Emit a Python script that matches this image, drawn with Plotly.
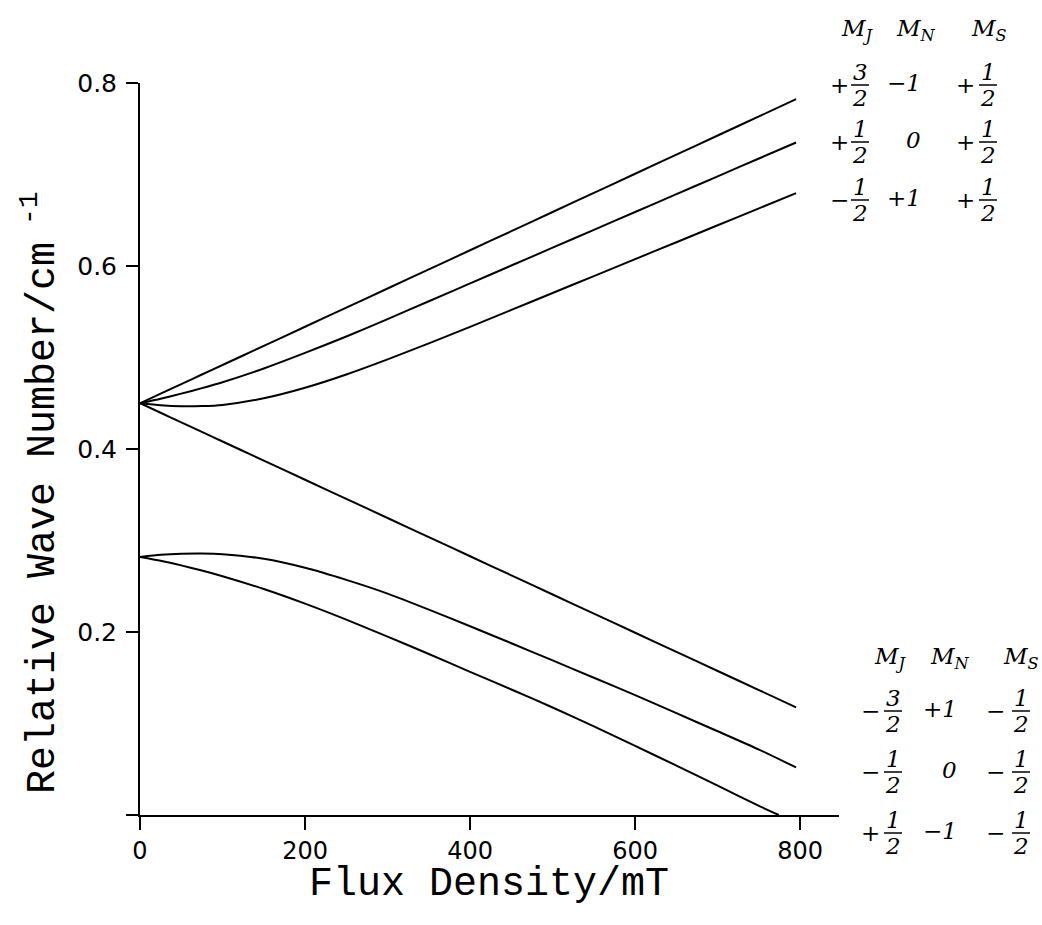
import plotly.graph_objects as go

# Magnetic flux density (mT) at which the term values are tabulated
field = [0, 25, 50, 75, 100, 150, 200, 250, 300, 350, 400, 450, 500, 550, 600, 650, 700, 750, 795]
field_f = [0, 25, 50, 75, 100, 150, 200, 250, 300, 350, 400, 450, 500, 550, 600, 650, 700, 750, 774]

# Upper group of Zeeman components (M_S = +1/2), relative wave number / cm^-1
level_a = [0.4500, 0.4605, 0.4709, 0.4814, 0.4918, 0.5127, 0.5336, 0.5545, 0.5754, 0.5963,
           0.6172, 0.6381, 0.6590, 0.6799, 0.7008, 0.7217, 0.7426, 0.7635, 0.7823]
level_b = [0.4500, 0.4550, 0.4605, 0.4665, 0.4730, 0.4880, 0.5050, 0.5230, 0.5420, 0.5615,
           0.5810, 0.6005, 0.6200, 0.6395, 0.6590, 0.6785, 0.6980, 0.7175, 0.7350]
level_c = [0.4500, 0.4478, 0.4467, 0.4469, 0.4482, 0.4555, 0.4670, 0.4815, 0.4980, 0.5155,
           0.5335, 0.5520, 0.5705, 0.5890, 0.6075, 0.6260, 0.6445, 0.6630, 0.6797]

# Lower group (M_S = -1/2)
level_d = [0.4500, 0.4396, 0.4291, 0.4187, 0.4082, 0.3873, 0.3664, 0.3455, 0.3246, 0.3037,
           0.2828, 0.2619, 0.2410, 0.2201, 0.1992, 0.1783, 0.1574, 0.1365, 0.1177]
level_e = [0.2820, 0.2843, 0.2855, 0.2858, 0.2850, 0.2800, 0.2702, 0.2570, 0.2420, 0.2245,
           0.2063, 0.1877, 0.1690, 0.1500, 0.1310, 0.1113, 0.0915, 0.0715, 0.0520]
level_f = [0.2820, 0.2778, 0.2728, 0.2672, 0.2610, 0.2470, 0.2310, 0.2135, 0.1950, 0.1760,
           0.1565, 0.1372, 0.1175, 0.0968, 0.0755, 0.0540, 0.0320, 0.0100, 0.0000]

# Axis ticks
x_ticks = [0, 200, 400, 600, 800]
y_ticks = [0, 0.2, 0.4, 0.6, 0.8]
y_tick_text = ["", "0.2", "0.4", "0.6", "0.8"]

# Quantum-number labels: (sign, numerator, denominator) for the half-integer columns
upper_mj = [("+", "3", "2"), ("+", "1", "2"), ("\u2212", "1", "2")]
upper_mn = ["\u22121", "0", "+1"]
upper_ms = [("+", "1", "2"), ("+", "1", "2"), ("+", "1", "2")]
lower_mj = [("\u2212", "3", "2"), ("\u2212", "1", "2"), ("+", "1", "2")]
lower_mn = ["+1", "0", "\u22121"]
lower_ms = [("\u2212", "1", "2"), ("\u2212", "1", "2"), ("\u2212", "1", "2")]

W, H = 1042, 925
ML, MR, MT, MB = 140, 203, 83, 110
PW, PH = W - ML - MR, H - MT - MB


def px(x):
    return (x - ML) / PW


def py(y):
    return (H - MB - y) / PH


fig = go.Figure()
for xs, ys in [(field, level_a), (field, level_b), (field, level_c),
               (field, level_d), (field, level_e), (field_f, level_f)]:
    fig.add_trace(go.Scatter(x=xs, y=ys, mode="lines",
                             line=dict(color="black", width=2, shape="spline", smoothing=0.6),
                             hoverinfo="skip", showlegend=False))

annotations = []
shapes = []
serif = dict(family="DejaVu Serif", color="black", style="italic")


def text(x, y, t, size, xanchor="center"):
    f = dict(serif)
    f["size"] = size
    annotations.append(dict(x=px(x), y=py(y), xref="paper", yref="paper", text=t,
                            showarrow=False, xanchor=xanchor, yanchor="middle",
                            font=f, borderpad=0))


def fraction(x, y, num, den, size=23):
    text(x, y - 12, num, size)
    text(x, y + 14, den, size)
    shapes.append(dict(type="line", xref="paper", yref="paper",
                       x0=px(x - 9), x1=px(x + 9), y0=py(y + 1), y1=py(y + 1),
                       line=dict(color="black", width=1.5)))


def half(x_sign, x_frac, y, item):
    sign, num, den = item
    text(x_sign, y + 1, sign, 23)
    fraction(x_frac, y, num, den)


def table(header_y, header_x, rows_y, cols, mj, mn, ms):
    for hx, sub in zip(header_x, ["J", "N", "S"]):
        text(hx, header_y, "M<sub>%s</sub>" % sub, 23)
    for i, ry in enumerate(rows_y):
        half(cols[0], cols[1], ry, mj[i])
        text(cols[2], ry - 1, mn[i], 23, xanchor="right")
        half(cols[3], cols[4], ry, ms[i])


table(30, [857, 916, 989], [84, 141, 199], [839, 860, 922, 965, 988],
      upper_mj, upper_mn, upper_ms)
table(658, [890, 950, 1021], [710, 771, 832], [870, 893, 958, 995, 1021],
      lower_mj, lower_mn, lower_ms)

mono = dict(family="Liberation Mono", color="black")
annotations.append(dict(x=px(489), y=py(884), xref="paper", yref="paper",
                        text="Flux Density/mT", showarrow=False,
                        xanchor="center", yanchor="middle", font=dict(mono, size=40)))
annotations.append(dict(x=px(40), y=py(493), xref="paper", yref="paper",
                        text="Relative Wave Number/cm<sup> -1</sup>", showarrow=False,
                        textangle=-90, xanchor="center", yanchor="middle",
                        font=dict(mono, size=40)))

fig.update_layout(
    width=W, height=H,
    margin=dict(l=ML, r=MR, t=MT, b=MB),
    paper_bgcolor="white", plot_bgcolor="white",
    showlegend=False,
    annotations=annotations,
    shapes=shapes,
    xaxis=dict(range=[0, 847], tickvals=x_ticks, ticktext=[str(v) for v in x_ticks],
               showgrid=False, zeroline=False, showline=True, linecolor="black", linewidth=2,
               ticks="outside", ticklen=13, tickwidth=2, tickcolor="black",
               tickfont=dict(family="DejaVu Sans", size=24, color="black")),
    yaxis=dict(range=[0, 0.8], tickvals=y_ticks, ticktext=y_tick_text,
               showgrid=False, zeroline=False, showline=True, linecolor="black", linewidth=2,
               ticks="outside", ticklen=12, tickwidth=2, tickcolor="black",
               ticklabelstandoff=4,
               tickfont=dict(family="DejaVu Sans", size=25, color="black")),
)

fig.write_html("out.html")
